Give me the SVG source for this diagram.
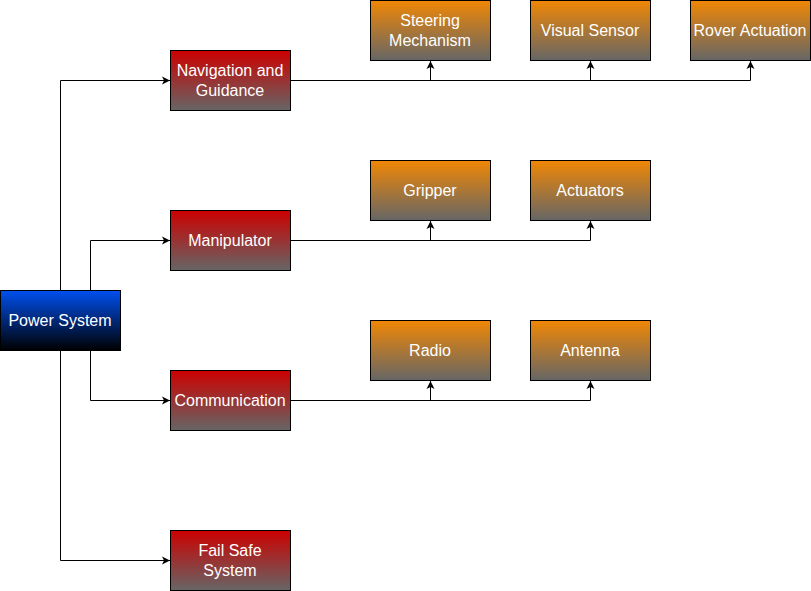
<svg xmlns="http://www.w3.org/2000/svg" width="811" height="591" viewBox="0 0 811 591">
<style>
.lbl{font-family:"Liberation Sans",Arial,Helvetica,sans-serif;font-size:16px;fill:#ffffff;text-anchor:middle}
.box{stroke:#000000;stroke-width:1}
.edge{fill:none;stroke:#000000;stroke-width:1;marker-end:url(#arr)}
</style>
<defs>
<linearGradient id="gBlue" x1="0" y1="0" x2="0" y2="1"><stop offset="0" stop-color="#0050ef"/><stop offset="1" stop-color="#000000"/></linearGradient>
<linearGradient id="gRed" x1="0" y1="0" x2="0" y2="1"><stop offset="0" stop-color="#cc0000"/><stop offset="1" stop-color="#666666"/></linearGradient>
<linearGradient id="gOrange" x1="0" y1="0" x2="0" y2="1"><stop offset="0" stop-color="#f08705"/><stop offset="1" stop-color="#666666"/></linearGradient>
<marker id="arr" markerUnits="userSpaceOnUse" viewBox="0 0 9 9" refX="8" refY="4.5" markerWidth="9" markerHeight="9" orient="auto"><path d="M0,0.5 L8,4.5 L0,8.5 L2,4.5 Z" fill="#000000"/></marker>
</defs>
<g id="connectors">
<path class="edge" d="M60.5,290 V80.5 H170"/>
<path class="edge" d="M90.5,290 V240.5 H170"/>
<path class="edge" d="M90.5,351 V400.5 H170"/>
<path class="edge" d="M60.5,351 V560.5 H170"/>
<path class="edge" d="M291,80.5 H430.5 V61"/>
<path class="edge" d="M291,80.5 H590.5 V61"/>
<path class="edge" d="M291,80.5 H750.5 V61"/>
<path class="edge" d="M291,240.5 H430.5 V221"/>
<path class="edge" d="M291,240.5 H590.5 V221"/>
<path class="edge" d="M291,400.5 H430.5 V381"/>
<path class="edge" d="M291,400.5 H590.5 V381"/>
</g>
<g id="power"><rect class="box" x="0.5" y="290.5" width="120" height="60" fill="url(#gBlue)"/><text class="lbl" x="60" y="326">Power System</text></g>
<g id="nav"><rect class="box" x="170.5" y="50.5" width="120" height="60" fill="url(#gRed)"/><text class="lbl" x="230" y="76">Navigation and</text><text class="lbl" x="230" y="96">Guidance</text></g>
<g id="manip"><rect class="box" x="170.5" y="210.5" width="120" height="60" fill="url(#gRed)"/><text class="lbl" x="230" y="246">Manipulator</text></g>
<g id="comm"><rect class="box" x="170.5" y="370.5" width="120" height="60" fill="url(#gRed)"/><text class="lbl" x="230" y="406">Communication</text></g>
<g id="failsafe"><rect class="box" x="170.5" y="530.5" width="120" height="60" fill="url(#gRed)"/><text class="lbl" x="230" y="556">Fail Safe</text><text class="lbl" x="230" y="576">System</text></g>
<g id="steering"><rect class="box" x="370.5" y="0.5" width="120" height="60" fill="url(#gOrange)"/><text class="lbl" x="430" y="26">Steering</text><text class="lbl" x="430" y="46">Mechanism</text></g>
<g id="visual"><rect class="box" x="530.5" y="0.5" width="120" height="60" fill="url(#gOrange)"/><text class="lbl" x="590" y="36">Visual Sensor</text></g>
<g id="rover"><rect class="box" x="690.5" y="0.5" width="120" height="60" fill="url(#gOrange)"/><text class="lbl" x="750" y="36">Rover Actuation</text></g>
<g id="gripper"><rect class="box" x="370.5" y="160.5" width="120" height="60" fill="url(#gOrange)"/><text class="lbl" x="430" y="196">Gripper</text></g>
<g id="actuators"><rect class="box" x="530.5" y="160.5" width="120" height="60" fill="url(#gOrange)"/><text class="lbl" x="590" y="196">Actuators</text></g>
<g id="radio"><rect class="box" x="370.5" y="320.5" width="120" height="60" fill="url(#gOrange)"/><text class="lbl" x="430" y="356">Radio</text></g>
<g id="antenna"><rect class="box" x="530.5" y="320.5" width="120" height="60" fill="url(#gOrange)"/><text class="lbl" x="590" y="356">Antenna</text></g>
</svg>
